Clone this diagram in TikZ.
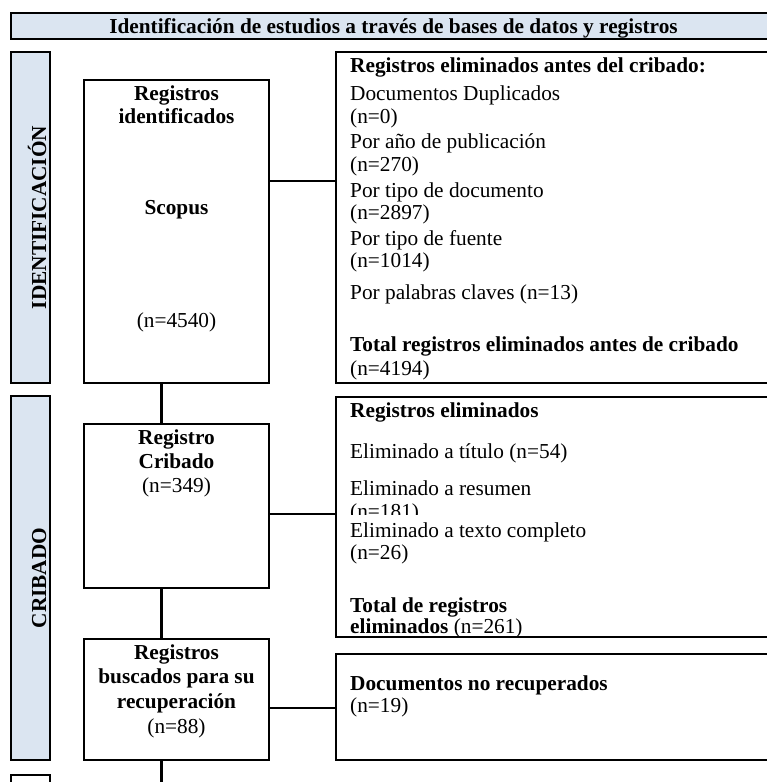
\documentclass[tikz,border=0pt]{standalone}
\usepackage{fontspec}
\setmainfont{Liberation Serif}
\usepackage{tikz}
\usetikzlibrary{
  calc,
  positioning
}
\definecolor{stageblue}{HTML}{DBE5F1}
\newcommand{\prismafont}{\fontsize{21.3}{24}\selectfont}
\tikzset{
  box/.style={draw, line width=2.6pt, inner sep=0pt, outer sep=0pt, anchor=north west},
  stagebar/.style={box, fill=stageblue},
  boxtext/.style={inner sep=0pt, font=\prismafont, text height=14.5pt, text depth=4.5pt},
  boldtext/.style={boxtext, font=\prismafont\bfseries},
  sidetext/.style={boxtext, anchor=west},
  link/.style={line width=2.6pt}
}

\begin{document}
\begin{tikzpicture}[x=1pt,y=-1pt]
      \useasboundingbox (0,0) rectangle (767,782);
      \clip (0,0) rectangle (767,782);

      % title bar
      \node[stagebar, minimum width=765, minimum height=26] (title) at (11,13) {};
      \node[boldtext] (titletext) at (393.5,28) {Identificación de estudios a través de bases de datos y registros};

      % stage bars
      \node[stagebar, minimum width=39, minimum height=331] (stageid) at (11,52) {};
      \node[boldtext, rotate=90] (stageidtext) at (41,217.5) {IDENTIFICACIÓN};
      \node[stagebar, minimum width=39, minimum height=364] (stagecrib) at (11,396) {};
      \node[boldtext, rotate=90] (stagecribtext) at (41,578) {CRIBADO};
      \node[box, fill=white, minimum width=39, minimum height=40] (stagenext) at (11,775) {};

      % main boxes
      \node[box, minimum width=185, minimum height=303] (idbox) at (84,80) {};
      \node[box, minimum width=185, minimum height=164] (cribbox) at (84,424) {};
      \node[box, minimum width=185, minimum height=121] (recbox) at (84,639) {};

      % side boxes
      \node[box, minimum width=460, minimum height=331] (elimid) at (336,52) {};
      \node[box, minimum width=460, minimum height=240] (elimcrib) at (336,397) {};
      \node[box, minimum width=460, minimum height=106] (norec) at (336,654) {};

      % vertical links
      \draw[link] ($(idbox.south west)!0.42!(idbox.south east)$) -- ($(cribbox.north west)!0.42!(cribbox.north east)$);
      \draw[link] ($(cribbox.south west)!0.42!(cribbox.south east)$) -- ($(recbox.north west)!0.42!(recbox.north east)$);
      \coordinate (nextstep) at ($(recbox.south west)!0.42!(recbox.south east)+(0,40)$);
      \draw[link] ($(recbox.south west)!0.42!(recbox.south east)$) -- (nextstep);

      % horizontal links
      \coordinate (idout) at ($(idbox.north east)!0.333!(idbox.south east)$);
      \draw[link] (idout) -- (idout -| elimid.west);
      \coordinate (cribout) at ($(cribbox.north east)!0.549!(cribbox.south east)$);
      \draw[link] (cribout) -- (cribout -| elimcrib.west);
      \coordinate (recout) at ($(recbox.north east)!0.57!(recbox.south east)$);
      \draw[link] (recout) -- (recout -| norec.west);

      % identificados
      \node[boldtext] (idhead1) at (176.5,95) {Registros};
      \node[boldtext] (idhead2) at (176.5,118) {identificados};
      \node[boldtext] (idsource) at (176.5,209) {Scopus};
      \node[boxtext] (idcount) at (176.5,322) {(n=4540)};

      % cribado
      \node[boldtext] (cribhead1) at (176.5,439) {Registro};
      \node[boldtext] (cribhead2) at (176.5,463) {Cribado};
      \node[boxtext] (cribcount) at (176.5,487) {(n=349)};

      % recuperacion
      \node[boldtext] (rechead1) at (176.5,654) {Registros};
      \node[boldtext] (rechead2) at (176.5,678) {buscados para su};
      \node[boldtext] (rechead3) at (176.5,703) {recuperación};
      \node[boxtext] (reccount) at (176.5,728) {(n=88)};

      % eliminados antes del cribado
      \foreach \ty/\txt [count=\i] in {
          67/{\textbf{Registros eliminados antes del cribado:}},
          95/{Documentos Duplicados}, 118/{(n=0)},
          143/{Por año de publicación}, 166/{(n=270)},
          192/{Por tipo de documento}, 214/{(n=2897)},
          240/{Por tipo de fuente}, 262/{(n=1014)},
          294/{Por palabras claves (n=13)},
          346/{\textbf{Total registros eliminados antes de cribado}}, 370/{(n=4194)}}
        \node[sidetext] (elimidl\i) at (350,\ty) {\txt};

      % eliminados en el cribado
      \foreach \ty/\txt [count=\i] in {
          412/{\textbf{Registros eliminados}},
          453/{Eliminado a título (n=54)},
          490/{Eliminado a resumen},
          532/{Eliminado a texto completo}, 554/{(n=26)},
          607/{\textbf{Total de registros}}, 628/{\textbf{eliminados} (n=261)}}
        \node[sidetext] (elimcribl\i) at (350,\ty) {\txt};
      \begin{scope}
        \clip (338,500) rectangle (700,514.5);
        \node[sidetext] (elimcribcut) at (350,513) {(n=181)};
      \end{scope}

      % no recuperados
      \node[sidetext] (norechead) at (350,685) {\textbf{Documentos no recuperados}};
      \node[sidetext] (noreccount) at (350,707) {(n=19)};
    \end{tikzpicture}
\end{document}
